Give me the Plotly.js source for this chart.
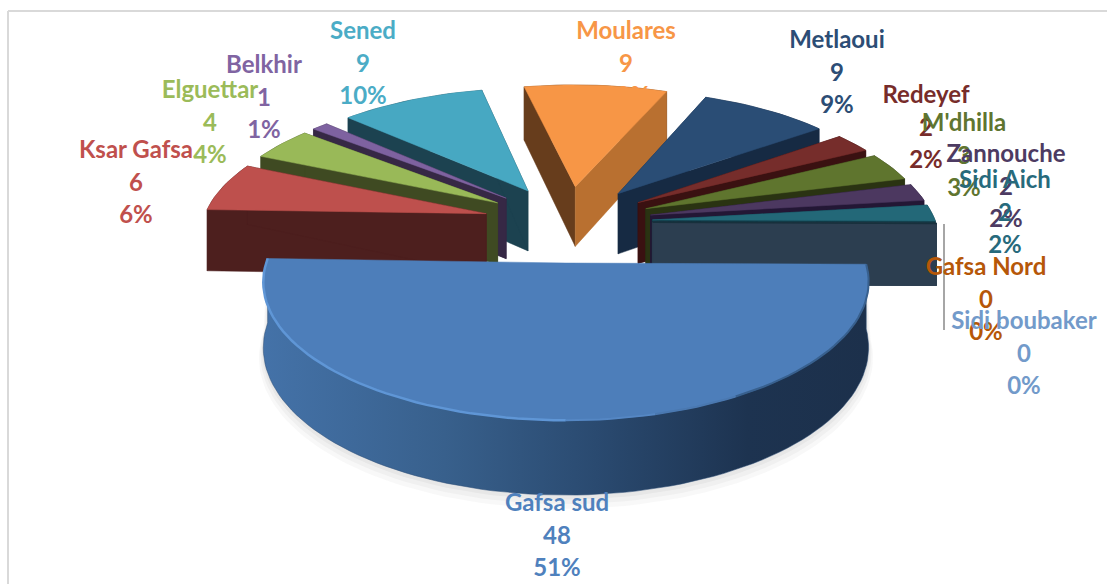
<!DOCTYPE html>
<html>
<head>
<meta charset="utf-8">
<script src="https://cdn.plot.ly/plotly-3.0.1.min.js"></script>
<style>html,body{margin:0;padding:0;background:#fff}#chart{width:1107px;height:584px}</style>
</head>
<body>
<div id="chart"></div>
<script>
// Data
const names = ["Gafsa sud","Ksar Gafsa","Elguettar","Belkhir","Sened","Moulares","Metlaoui","Redeyef","M'dhilla","Zannouche","Sidi Aich","Gafsa Nord","Sidi boubaker"];
const values = [48,6,4,1,9,9,9,2,3,2,2,0,0];
const percents = ["51%","6%","4%","1%","10%","10%","9%","2%","3%","2%","2%","0%","0%"];
// Unrounded share of each slice in percent
const shares = [50.4,6.25,4.2,1.1,9.6,9.45,8.6,2.5,3.6,2.2,2.1,0,0];

// Styles
const labelColors = ["#4F81BD","#C0504D","#9BBB59","#8064A2","#4BACC6","#F79646","#2C4D75","#772C2A","#5F7530","#4D3B62","#276A7C","#B65708","#729ACA"];
const topColors = ["#4D7EBA","#BE504D","#99B958","#7E62A0","#47A8C2","#F79646","#2A4D75","#762D2B","#5F752E","#4C3860","#236878","#2C3E50","#2C3E50"];
const startFaceColors = ["#2C4D75","#4D1F1E","#3F4A22","#362845","#1C4250","#673D1C","#162A43","#3A1111","#2A3312","#231735","#123B47","#2C3E50","#2C3E50"];
const endFaceColors = ["#2C4D75","#4D1F1E","#3F4A22","#362845","#1C4250","#B97030","#162A43","#3A1111","#2A3312","#231735","#123B47","#2C3E50","#2C3E50"];

// Label anchors: centre x and y of the first line
const labelX = [557,136,210,264,363,626,837,926,964,1006,1005,986,1024];
const labelY = [505,152,92,67,33,33,42,97,125,156,182,269,323];
const labelLineStep = 32.7;

// View of the tilted pie
const view = {cx:568, cy:222, A:292, B:127, p:0.132, depth:62, explode:0.29, bigExplode:0.31, startAngle:90.5, smallRadius:0.97, bigRadius:0.985};

function project(X, Y, drop) {
  const w = 1 - view.p * Y;
  return [view.cx + view.A * X / w, view.cy + (view.B * Y + drop) / w];
}
function rad(d){return d*Math.PI/180;}

const total = shares.reduce((a,b)=>a+b,0);
let angle = view.startAngle;
const slices = shares.map((v,i)=>{
  const span = v/total*360;
  const a0 = angle, a1 = angle+span;
  angle = a1;
  const mid = (a0+a1)/2;
  const e = i===0?view.bigExplode:view.explode;
  return {i,a0,a1,r:i===0?view.bigRadius:view.smallRadius,ox:e*Math.sin(rad(mid)),oy:-e*Math.cos(rad(mid))};
});

function arc(s,a0,a1,drop,scale){
  const n = Math.max(2,Math.ceil(Math.abs(a1-a0)/2));
  const r = s.r*(scale||1);
  const pts=[];
  for(let k=0;k<=n;k++){
    const a=rad(a0+(a1-a0)*k/n);
    pts.push(project(s.ox+r*Math.sin(a),s.oy-r*Math.cos(a),drop));
  }
  return pts;
}
function poly(pts,color,extra){
  const xs=pts.map(p=>p[0]), ys=pts.map(p=>p[1]);
  xs.push(xs[0]); ys.push(ys[0]);
  return Object.assign({type:'scatter',mode:'lines',x:xs,y:ys,fill:'toself',fillcolor:color,
    line:{color:color,width:0.5},hoverinfo:'skip',showlegend:false},extra||{});
}
function stroke(pts,color,width){
  return {type:'scatter',mode:'lines',x:pts.map(p=>p[0]),y:pts.map(p=>p[1]),line:{color:color,width:width},hoverinfo:'skip',showlegend:false};
}

const traces=[];
const d=view.depth;
const ordered = slices.slice().sort((a,b)=>a.oy-b.oy);
ordered.forEach(s=>{
  const i=s.i;
  const apexT=project(s.ox,s.oy,0), apexB=project(s.ox,s.oy,d);
  if(i===0){
    // soft shadow under the big slice
    [[9,1.014,0.05],[6,1.009,0.06],[3,1.004,0.07]].forEach(([o,sc,al])=>{
      const lo=arc(s,s.a0,s.a1,d+o,sc);
      const hi=arc(s,s.a1,s.a0,0,1);
      traces.push(poly(lo.concat(hi),'rgba(120,120,120,'+al+')',{line:{width:0,color:'rgba(0,0,0,0)'}}));
    });
  }
  // outer wall
  const tArc=arc(s,s.a0,s.a1,0), bArc=arc(s,s.a1,s.a0,d);
  if(shares[i]>0){
    const extra = i===0 ? {fillgradient:{type:'horizontal',colorscale:[[0,'#4472A8'],[0.3,'#38608C'],[0.55,'#2A4A70'],[0.8,'#1D3350'],[1,'#1C304B']]}} : {};
    traces.push(poly(tArc.concat(bArc),i===0?'#2C4D75':startFaceColors[i],extra));
  }
  // radial cut faces
  const edge=(a,drop)=>project(s.ox+s.r*Math.sin(rad(a)),s.oy-s.r*Math.cos(rad(a)),drop);
  if(i!==0){
    traces.push(poly([apexT,edge(s.a0,0),edge(s.a0,d),apexB],startFaceColors[i]));
    traces.push(poly([apexT,edge(s.a1,0),edge(s.a1,d),apexB],endFaceColors[i]));
  }
  // top surface
  if(shares[i]>0){
    traces.push(poly([apexT].concat(tArc),topColors[i]));
  }
  if(shares[i]===0){
    traces.push(stroke([apexT,edge(s.a0,0)],'#17303C',1.5));
  }
  if(i===0){
    // bevel along the front rim, fading from light on the left to dark on the right
    traces.push(stroke(arc(s,150,s.a0,0),'#38608E',2));
    traces.push(stroke(arc(s,165,150,0),'#4A78B0',2));
    traces.push(stroke(arc(s,180,165,0),'#5587C4',2));
    traces.push(stroke(arc(s,s.a1,180,0),'#5F96D6',2.5));
  }
});

// Labels: name, value, percent on three lines, in the order the chart paints them
const labelOrder=[1,2,3,4,5,6,7,8,9,10,11,12,0];
labelOrder.forEach(i=>{
  traces.push({type:'scatter',mode:'text',
    x:[labelX[i],labelX[i],labelX[i]],
    y:[labelY[i],labelY[i]+labelLineStep,labelY[i]+2*labelLineStep],
    text:[names[i],String(values[i]),percents[i]],
    textposition:'middle center',
    textfont:{family:'Lato, "Open Sans", sans-serif',size:24,color:labelColors[i],weight:700},
    hoverinfo:'skip',showlegend:false,cliponaxis:false});
});

const layout={
  width:1107,height:584,margin:{l:0,r:0,t:0,b:0},
  paper_bgcolor:'#fff',plot_bgcolor:'#fff',showlegend:false,
  xaxis:{range:[0,1107],visible:false,fixedrange:true},
  yaxis:{range:[584,0],visible:false,fixedrange:true},
  shapes:[
    {type:'line',xref:'x',yref:'y',x0:8,x1:1107,y0:11,y1:11,line:{color:'#D9D9D9',width:2},layer:'below'},
    {type:'line',xref:'x',yref:'y',x0:8,x1:8,y0:11,y1:584,line:{color:'#D9D9D9',width:2},layer:'below'},
    {type:'line',xref:'x',yref:'y',x0:944,x1:944,y0:224,y1:330,line:{color:'#A6A6A6',width:2},layer:'below'}
  ]
};
Plotly.newPlot('chart',traces,layout,{displayModeBar:false,staticPlot:true});
</script>
</body>
</html>
